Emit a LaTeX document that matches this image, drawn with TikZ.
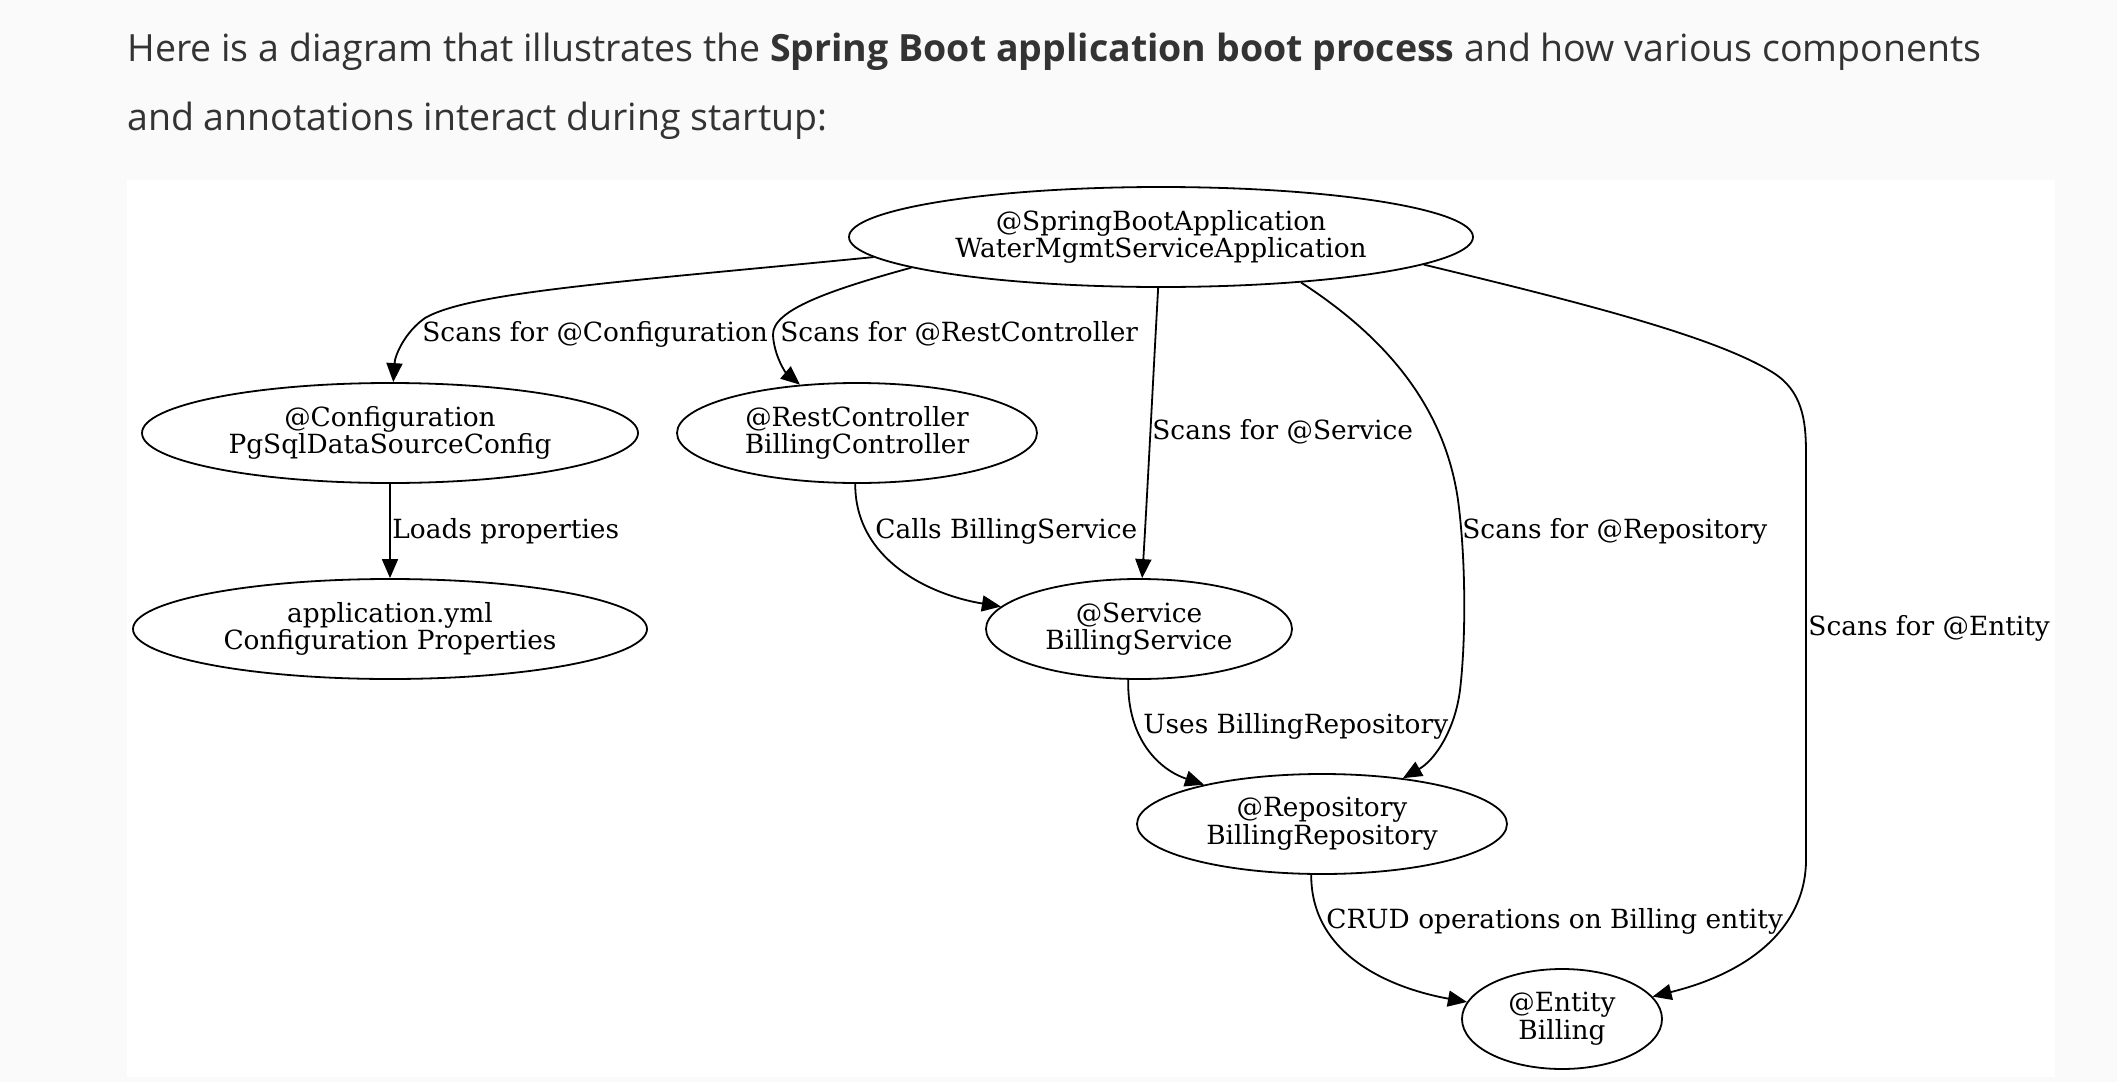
\documentclass[tikz,border=0pt]{standalone}
\usepackage{fontspec}
\usetikzlibrary{arrows.meta,shapes.geometric}
\newfontfamily\gvfont{DejaVu Serif}
\newfontfamily\uifont{Open Sans}
\newcommand\gvsize{\gvfont\fontsize{13.2}{13.8}\selectfont}
\newcommand\uisize{\uifont\fontsize{18.75}{22}\selectfont}
\definecolor{pagebg}{HTML}{FAFAFA}
\definecolor{uitext}{HTML}{333333}
\tikzset{
  box/.style={ellipse, draw, line width=0.9pt, inner sep=0pt, align=center, font=\gvsize},
  lbl/.style={anchor=base west, inner sep=0pt, font=\gvsize},
  arr/.style={-{Triangle[length=9.5pt,width=8pt]}, line width=0.9pt},
  uitxt/.style={anchor=base west, inner sep=0pt, font=\uisize, text=uitext},
}
\begin{document}
\begin{tikzpicture}[x=0.5pt,y=-0.5pt]
\useasboundingbox (0,0) rectangle (2117,1082);
\fill[pagebg] (0,0) rectangle (2117,1082);
\fill[white] (127,180) rectangle (2055,1077);

\node[uitxt] (t1) at (127,61) {Here is a diagram that illustrates the \textbf{Spring Boot application boot process} and how various components};
\node[uitxt] (t2) at (127,130) {and annotations interact during startup:};

\node[box, minimum width=312pt, minimum height=50pt] (top) at (1161,237) {@SpringBootApplication\\WaterMgmtServiceApplication};
\node[box, minimum width=248pt, minimum height=50pt] (cfg) at (390,433) {@Configuration\\PgSqlDataSourceConfig};
\node[box, minimum width=180pt, minimum height=50pt] (rest) at (857,433) {@RestController\\BillingController};
\node[box, minimum width=257pt, minimum height=50pt] (yml) at (390,629) {application.yml\\Configuration Properties};
\node[box, minimum width=153pt, minimum height=50pt] (svc) at (1139,629) {@Service\\BillingService};
\node[box, minimum width=185pt, minimum height=50pt] (repo) at (1322,824) {@Repository\\BillingRepository};
\node[box, minimum width=100pt, minimum height=50pt] (ent) at (1562,1019) {@Entity\\Billing};

\coordinate (k1) at (425,318);
\coordinate (k2) at (773,335);
\coordinate (k3) at (1458,500);
\coordinate (k4) at (1460,690);
\coordinate (k5) at (1772,372);
\coordinate (k6) at (1806,452);
\coordinate (k7) at (1806,860);

\draw[arr] (top.184) .. controls (620,282) and (470,292) .. (k1) .. controls (405,332) and (395,355) .. (cfg);
\draw[arr] (top.187) .. controls (830,290) and (772,310) .. (k2) .. controls (774,355) and (785,372) .. (rest);
\draw[arr] (top) .. controls (1153,380) and (1147,500) .. (svc);
\draw[arr] (top.-18.5) .. controls (1390,340) and (1445,410) .. (k3) .. controls (1466,560) and (1466,640) .. (k4) .. controls (1455,730) and (1435,760) .. (repo);
\draw[arr] (top.-6.8) .. controls (1570,300) and (1712,335) .. (k5) .. controls (1802,390) and (1806,420) .. (k6) -- (k7) .. controls (1806,920) and (1760,970) .. (ent);
\draw[arr] (cfg) -- (yml);
\draw[arr] (rest.268) .. controls (855,560) and (930,595) .. (svc);
\draw[arr] (svc.258) .. controls (1127,740) and (1160,770) .. (repo);
\draw[arr] (repo.258) .. controls (1311,960) and (1400,990) .. (ent);

\node[lbl] (l1) at (422,341) {Scans for @Configuration};
\node[lbl] (l2) at (780,341) {Scans for @RestController};
\node[lbl] (l3) at (1152,439) {Scans for @Service};
\node[lbl] (l4) at (1462,538) {Scans for @Repository};
\node[lbl] (l5) at (1808,635) {Scans for @Entity};
\node[lbl] (l6) at (392,538) {Loads properties};
\node[lbl] (l7) at (875,538) {Calls BillingService};
\node[lbl] (l8) at (1143,733) {Uses BillingRepository};
\node[lbl] (l9) at (1326,928) {CRUD operations on Billing entity};
\end{tikzpicture}
\end{document}
